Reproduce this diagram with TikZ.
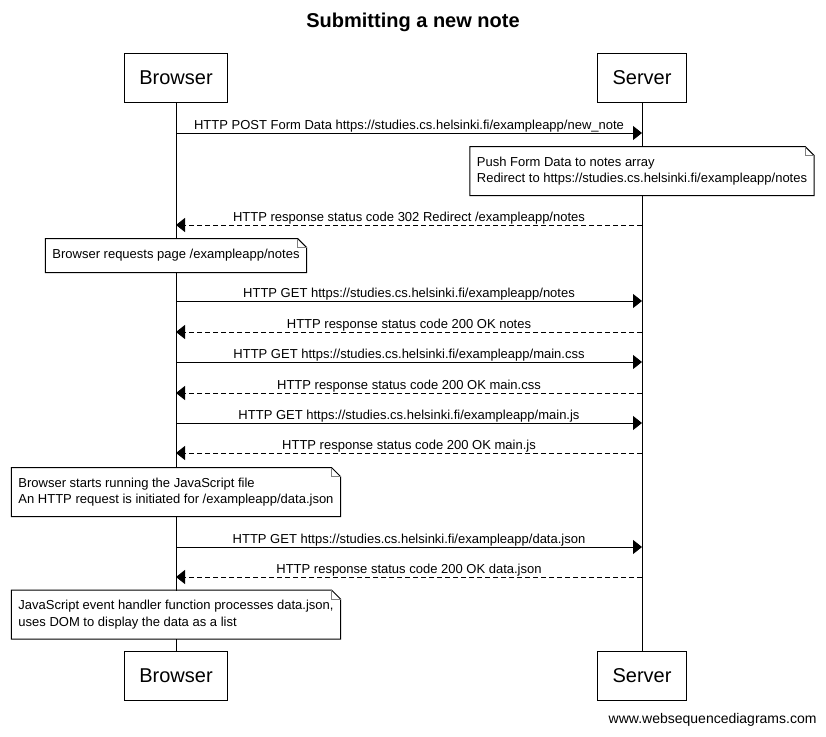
\documentclass[tikz,border=0pt]{standalone}
\usepackage{fontspec}
\setmainfont{Liberation Sans}
\usetikzlibrary{arrows.meta, positioning}

% note outline with folded corner
\newcommand{\notebox}[1]{%
  \draw (#1.north west) -- ([xshift=-9pt]#1.north east) -- ([yshift=-9pt]#1.north east)
    -- (#1.south east) -- (#1.south west) -- cycle;
  \draw[gray] ([xshift=-9pt]#1.north east) |- ([yshift=-9pt]#1.north east);
}

\begin{document}
\begin{tikzpicture}[x=1pt, y=-1pt, line width=1pt, on grid,
  actor/.style={draw, fill=white, font=\fontsize{20}{24}\selectfont, inner xsep=15pt, minimum height=49pt},
  note/.style={fill=white, align=left, font=\fontsize{13}{16.5}\selectfont, inner xsep=6.5pt, minimum height=48pt},
  req/.style={-{Triangle[length=9pt, width=14pt]}},
  res/.style={req, dash pattern=on 5pt off 3pt},
  lbl/.style={above, inner xsep=2pt, inner ysep=0.5pt, font=\fontsize{13}{16}\selectfont}]
  \useasboundingbox (0,0) rectangle (826,736);

  \node[font=\bfseries\fontsize{20}{24}\selectfont] (title) at (413,22) {Submitting a new note};

  \node[actor] (bt) at (176,77.5) {Browser};
  \node[actor, right=466pt of bt] (st) {Server};
  \node[actor, below=598.5pt of bt] (bb) {Browser};
  \node[actor, below=598.5pt of st] (sb) {Server};
  \draw (bt) -- (bb);
  \draw (st) -- (sb);

  \node[note] (n1) at (642,171) {Push Form Data to notes array\\Redirect to https://studies.cs.helsinki.fi/exampleapp/notes};
  \node[note, minimum height=33pt] (n2) at (176,255.5) {Browser requests page /exampleapp/notes};
  \node[note] (n3) at (176,492) {Browser starts running the JavaScript file\\An HTTP request is initiated for /exampleapp/data.json};
  \node[note] (n4) at (176,614.5) {JavaScript event handler function processes data.json,\\uses DOM to display the data as a list};
  \foreach \n in {n1,n2,n3,n4} {\notebox{\n}}

  \foreach \y [count=\i] in {133,225,301,332,362,393,423,453,547,577} {
    \coordinate (b\i) at (bt |- 0,\y);
    \coordinate (s\i) at (st |- 0,\y);
  }

  \path
  (b1) edge[req] node[lbl] {HTTP POST Form Data https://studies.cs.helsinki.fi/exampleapp/new\_note} (s1)
  (s2) edge[res] node[lbl] {HTTP response status code 302 Redirect /exampleapp/notes} (b2)
  (b3) edge[req] node[lbl] {HTTP GET https://studies.cs.helsinki.fi/exampleapp/notes} (s3)
  (s4) edge[res] node[lbl] {HTTP response status code 200 OK notes} (b4)
  (b5) edge[req] node[lbl] {HTTP GET https://studies.cs.helsinki.fi/exampleapp/main.css} (s5)
  (s6) edge[res] node[lbl] {HTTP response status code 200 OK main.css} (b6)
  (b7) edge[req] node[lbl] {HTTP GET https://studies.cs.helsinki.fi/exampleapp/main.js} (s7)
  (s8) edge[res] node[lbl] {HTTP response status code 200 OK main.js} (b8)
  (b9) edge[req] node[lbl] {HTTP GET https://studies.cs.helsinki.fi/exampleapp/data.json} (s9)
  (s10) edge[res] node[lbl] {HTTP response status code 200 OK data.json} (b10)
  ;

  \node[anchor=base east, inner sep=0pt, font=\fontsize{14}{16}\selectfont] (credit) at (817,723) {www.websequencediagrams.com};
\end{tikzpicture}
\end{document}
